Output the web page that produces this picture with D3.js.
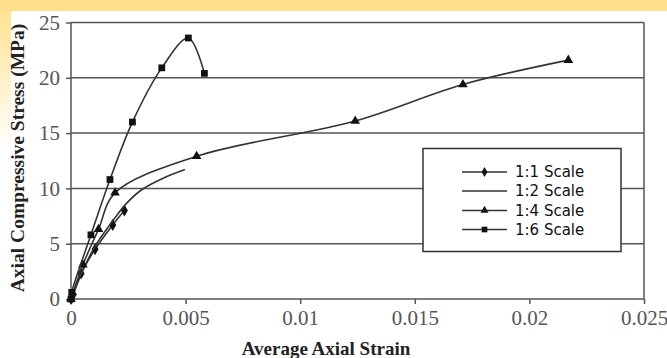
<!DOCTYPE html>
<html>
<head>
<meta charset="utf-8">
<script src="https://cdn.jsdelivr.net/npm/d3@7"></script>
<style>
  body { margin: 0; background: #fff; }
  svg { display: block; }
</style>
</head>
<body>
<div id="chart"></div>
<script>
// series: [strain, stress MPa]
var scale11 = [[0, 0], [0.0001, 0.4], [0.00044, 2.3], [0.00105, 4.5], [0.00182, 6.7], [0.00233, 8.0]];
var scale12 = [[0, 0], [0.0005, 2.5], [0.001, 4.6], [0.0018, 7.0], [0.0024, 8.6], [0.0031, 9.9], [0.004, 10.9], [0.00497, 11.7]];
var scale14 = [[0, 0], [0.00052, 3.1], [0.0012, 6.3], [0.00192, 9.6], [0.00548, 12.9], [0.0124, 16.1], [0.0171, 19.4], [0.0217, 21.6]];
var scale16 = [[0, 0], [0.00003, 0.6], [0.00087, 5.8], [0.0017, 10.8], [0.00268, 16.0], [0.00396, 20.9], [0.00512, 23.6], [0.00582, 20.4]];

var xTicks = [0, 0.005, 0.01, 0.015, 0.02, 0.025];
var yTicks = [0, 5, 10, 15, 20, 25];
var seriesNames = ["1:1 Scale", "1:2 Scale", "1:4 Scale", "1:6 Scale"];

var width = 667, height = 358;
var margin = {top: 22.5, right: 23, bottom: 59, left: 71};

var svg = d3.select("#chart").append("svg")
    .attr("width", width)
    .attr("height", height);

// yellow page band
var defs = svg.append("defs");
var grad = defs.append("linearGradient")
    .attr("id", "leftfade")
    .attr("x1", 0).attr("y1", 0).attr("x2", 0).attr("y2", 1);
grad.append("stop").attr("offset", "0%").attr("stop-color", "#ffe08a");
grad.append("stop").attr("offset", "100%").attr("stop-color", "#ffffff");

svg.append("rect").attr("x", 0).attr("y", 0).attr("width", 11).attr("height", 150)
    .attr("fill", "url(#leftfade)");
svg.append("rect").attr("x", 0).attr("y", 0).attr("width", width).attr("height", 11)
    .attr("fill", "#ffe08a");

var x = d3.scaleLinear().domain([0, 0.025]).range([margin.left, width - margin.right]);
var y = d3.scaleLinear().domain([0, 25]).range([height - margin.bottom, margin.top]);

// gridlines
svg.append("g").selectAll("line")
    .data(yTicks.slice(1))
    .enter().append("line")
    .attr("x1", x(0)).attr("x2", x(0.025))
    .attr("y1", function(d) { return y(d); })
    .attr("y2", function(d) { return y(d); })
    .attr("stroke", "#555")
    .attr("stroke-width", 1.5);

// right border
svg.append("line")
    .attr("x1", x(0.025)).attr("x2", x(0.025))
    .attr("y1", y(0)).attr("y2", y(25))
    .attr("stroke", "#555").attr("stroke-width", 1.5);

var xAxis = d3.axisBottom(x).tickValues(xTicks).tickSize(5).tickPadding(6)
    .tickFormat(function(d) { return d === 0 ? "0" : String(d); });
var yAxis = d3.axisLeft(y).tickValues(yTicks).tickSize(5).tickPadding(6);

var gx = svg.append("g")
    .attr("transform", "translate(0," + y(0) + ")")
    .call(xAxis);
var gy = svg.append("g")
    .attr("transform", "translate(" + x(0) + ",0)")
    .call(yAxis);

[gx, gy].forEach(function(g) {
  g.selectAll("path, line").attr("stroke", "#555").attr("stroke-width", 1.5);
  g.select(".domain").attr("d", g === gx ?
      "M" + x(0) + ",0H" + x(0.025) : "M0," + y(0) + "V" + y(25));
  g.selectAll("text")
      .attr("font-family", "'Liberation Serif', 'Times New Roman', serif")
      .attr("font-size", 21)
      .attr("fill", "#555");
});

// axis titles
svg.append("text")
    .attr("x", 326).attr("y", 355)
    .attr("text-anchor", "middle")
    .attr("font-family", "'Liberation Serif', 'Times New Roman', serif")
    .attr("font-weight", "bold")
    .attr("font-size", 19)
    .attr("fill", "#222")
    .text("Average Axial Strain");

svg.append("text")
    .attr("transform", "translate(24," + 158 + ") rotate(-90)")
    .attr("text-anchor", "middle")
    .attr("font-family", "'Liberation Serif', 'Times New Roman', serif")
    .attr("font-weight", "bold")
    .attr("font-size", 19.5)
    .attr("fill", "#222")
    .text("Axial Compressive Stress (MPa)");

// curves
var line = d3.line()
    .x(function(d) { return x(d[0]); })
    .y(function(d) { return y(d[1]); })
    .curve(d3.curveCatmullRom.alpha(0.5));

var allSeries = [scale11, scale12, scale14, scale16];
var markers = [d3.symbolDiamond, null, d3.symbolTriangle, d3.symbolSquare];
var markerSize = [42, 0, 40, 46];

allSeries.forEach(function(s, i) {
  svg.append("path")
      .datum(s)
      .attr("d", line)
      .attr("fill", "none")
      .attr("stroke", "#333")
      .attr("stroke-width", 1.6);
  if (markers[i]) {
    svg.append("g").selectAll("path")
        .data(s)
        .enter().append("path")
        .attr("transform", function(d) { return "translate(" + x(d[0]) + "," + y(d[1]) + ")"; })
        .attr("d", d3.symbol().type(markers[i]).size(markerSize[i]))
        .attr("fill", "#111");
  }
});

// legend
var legend = svg.append("g");
legend.append("rect")
    .attr("x", 423).attr("y", 148.5)
    .attr("width", 198).attr("height", 103)
    .attr("fill", "#fff")
    .attr("stroke", "#333")
    .attr("stroke-width", 1.5);

var rowY = [172, 191, 210.5, 229.5];
var item = legend.selectAll(".item")
    .data(seriesNames)
    .enter().append("g")
    .attr("class", "item")
    .attr("transform", function(d, i) { return "translate(0," + rowY[i] + ")"; });

item.append("line")
    .attr("x1", 462).attr("x2", 507)
    .attr("stroke", "#333").attr("stroke-width", 1.6);
item.each(function(d, i) {
  if (markers[i]) {
    d3.select(this).append("path")
        .attr("transform", "translate(484.5,0)")
        .attr("d", d3.symbol().type(markers[i]).size(markerSize[i] * 0.7))
        .attr("fill", "#111");
  }
});
item.append("text")
    .attr("x", 515)
    .attr("dy", "0.36em")
    .attr("font-family", "'DejaVu Sans', Verdana, sans-serif")
    .attr("font-size", 15)
    .attr("fill", "#111")
    .text(function(d) { return d; });
</script>
</body>
</html>
